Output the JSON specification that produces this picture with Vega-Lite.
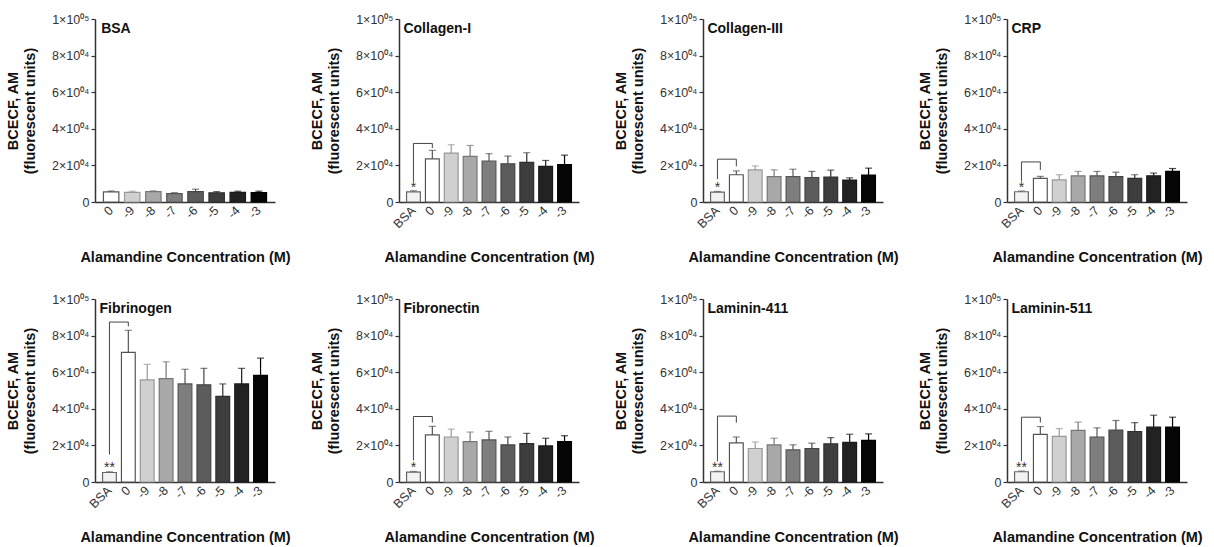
{
  "$schema": "https://vega.github.io/schema/vega-lite/v6.json",
  "background": "white",
  "padding": {"left": 5, "top": 12, "right": 2, "bottom": 2},
  "datasets": {
    "rows": [
      {"panel":"BSA","kind":"bar","cat":"0","mean":5500,"upper":6000},
      {"panel":"BSA","kind":"bar","cat":"-9","mean":5300,"upper":5900},
      {"panel":"BSA","kind":"bar","cat":"-8","mean":5700,"upper":6100},
      {"panel":"BSA","kind":"bar","cat":"-7","mean":4600,"upper":5100},
      {"panel":"BSA","kind":"bar","cat":"-6","mean":5700,"upper":7000},
      {"panel":"BSA","kind":"bar","cat":"-5","mean":5000,"upper":5700},
      {"panel":"BSA","kind":"bar","cat":"-4","mean":5300,"upper":5900},
      {"panel":"BSA","kind":"bar","cat":"-3","mean":5200,"upper":5900},
      {"panel":"BSA","kind":"title","cat":"0","yv":100000,"label":"BSA"},

      {"panel":"Collagen-I","kind":"bar","cat":"BSA","mean":5500,"upper":6200},
      {"panel":"Collagen-I","kind":"bar","cat":"0","mean":23600,"upper":28200},
      {"panel":"Collagen-I","kind":"bar","cat":"-9","mean":26700,"upper":31300},
      {"panel":"Collagen-I","kind":"bar","cat":"-8","mean":24900,"upper":30900},
      {"panel":"Collagen-I","kind":"bar","cat":"-7","mean":22400,"upper":26400},
      {"panel":"Collagen-I","kind":"bar","cat":"-6","mean":20900,"upper":25100},
      {"panel":"Collagen-I","kind":"bar","cat":"-5","mean":21600,"upper":26900},
      {"panel":"Collagen-I","kind":"bar","cat":"-4","mean":19500,"upper":22700},
      {"panel":"Collagen-I","kind":"bar","cat":"-3","mean":20500,"upper":25600},
      {"panel":"Collagen-I","kind":"star","cat":"BSA","yv":6400,"label":"*"},
      {"panel":"Collagen-I","kind":"bracket","cat":"BSA","yv":11000,"ord":1},
      {"panel":"Collagen-I","kind":"bracket","cat":"BSA","yv":32000,"ord":2},
      {"panel":"Collagen-I","kind":"bracket","cat":"0","yv":32000,"ord":3},
      {"panel":"Collagen-I","kind":"bracket","cat":"0","yv":29500,"ord":4},
      {"panel":"Collagen-I","kind":"title","cat":"BSA","yv":100000,"label":"Collagen-I"},

      {"panel":"Collagen-III","kind":"bar","cat":"BSA","mean":5400,"upper":5800},
      {"panel":"Collagen-III","kind":"bar","cat":"0","mean":14900,"upper":17000},
      {"panel":"Collagen-III","kind":"bar","cat":"-9","mean":17600,"upper":19700},
      {"panel":"Collagen-III","kind":"bar","cat":"-8","mean":13900,"upper":17600},
      {"panel":"Collagen-III","kind":"bar","cat":"-7","mean":13900,"upper":17900},
      {"panel":"Collagen-III","kind":"bar","cat":"-6","mean":13400,"upper":16700},
      {"panel":"Collagen-III","kind":"bar","cat":"-5","mean":13600,"upper":17400},
      {"panel":"Collagen-III","kind":"bar","cat":"-4","mean":12000,"upper":13200},
      {"panel":"Collagen-III","kind":"bar","cat":"-3","mean":14700,"upper":18500},
      {"panel":"Collagen-III","kind":"star","cat":"BSA","yv":6400,"label":"*"},
      {"panel":"Collagen-III","kind":"bracket","cat":"BSA","yv":12500,"ord":1},
      {"panel":"Collagen-III","kind":"bracket","cat":"BSA","yv":23400,"ord":2},
      {"panel":"Collagen-III","kind":"bracket","cat":"0","yv":23400,"ord":3},
      {"panel":"Collagen-III","kind":"bracket","cat":"0","yv":19500,"ord":4},
      {"panel":"Collagen-III","kind":"title","cat":"BSA","yv":100000,"label":"Collagen-III"},

      {"panel":"CRP","kind":"bar","cat":"BSA","mean":5600,"upper":6000},
      {"panel":"CRP","kind":"bar","cat":"0","mean":12900,"upper":14000},
      {"panel":"CRP","kind":"bar","cat":"-9","mean":12100,"upper":14900},
      {"panel":"CRP","kind":"bar","cat":"-8","mean":14300,"upper":16700},
      {"panel":"CRP","kind":"bar","cat":"-7","mean":14300,"upper":16700},
      {"panel":"CRP","kind":"bar","cat":"-6","mean":13900,"upper":16300},
      {"panel":"CRP","kind":"bar","cat":"-5","mean":12900,"upper":14900},
      {"panel":"CRP","kind":"bar","cat":"-4","mean":14300,"upper":15800},
      {"panel":"CRP","kind":"bar","cat":"-3","mean":16700,"upper":18300},
      {"panel":"CRP","kind":"star","cat":"BSA","yv":6400,"label":"*"},
      {"panel":"CRP","kind":"bracket","cat":"BSA","yv":11200,"ord":1},
      {"panel":"CRP","kind":"bracket","cat":"BSA","yv":21900,"ord":2},
      {"panel":"CRP","kind":"bracket","cat":"0","yv":21900,"ord":3},
      {"panel":"CRP","kind":"bracket","cat":"0","yv":17500,"ord":4},
      {"panel":"CRP","kind":"title","cat":"BSA","yv":100000,"label":"CRP"},

      {"panel":"Fibrinogen","kind":"bar","cat":"BSA","mean":5200,"upper":5600},
      {"panel":"Fibrinogen","kind":"bar","cat":"0","mean":70800,"upper":82900},
      {"panel":"Fibrinogen","kind":"bar","cat":"-9","mean":55800,"upper":64300},
      {"panel":"Fibrinogen","kind":"bar","cat":"-8","mean":56500,"upper":65700},
      {"panel":"Fibrinogen","kind":"bar","cat":"-7","mean":53600,"upper":61600},
      {"panel":"Fibrinogen","kind":"bar","cat":"-6","mean":53100,"upper":62100},
      {"panel":"Fibrinogen","kind":"bar","cat":"-5","mean":46800,"upper":53600},
      {"panel":"Fibrinogen","kind":"bar","cat":"-4","mean":53600,"upper":62100},
      {"panel":"Fibrinogen","kind":"bar","cat":"-3","mean":58300,"upper":67700},
      {"panel":"Fibrinogen","kind":"star","cat":"BSA","yv":6400,"label":"**"},
      {"panel":"Fibrinogen","kind":"bracket","cat":"BSA","yv":15000,"ord":1},
      {"panel":"Fibrinogen","kind":"bracket","cat":"BSA","yv":87400,"ord":2},
      {"panel":"Fibrinogen","kind":"bracket","cat":"0","yv":87400,"ord":3},
      {"panel":"Fibrinogen","kind":"bracket","cat":"0","yv":85000,"ord":4},
      {"panel":"Fibrinogen","kind":"title","cat":"BSA","yv":100000,"label":"Fibrinogen"},

      {"panel":"Fibronectin","kind":"bar","cat":"BSA","mean":5400,"upper":5800},
      {"panel":"Fibronectin","kind":"bar","cat":"0","mean":25700,"upper":30400},
      {"panel":"Fibronectin","kind":"bar","cat":"-9","mean":24600,"upper":28900},
      {"panel":"Fibronectin","kind":"bar","cat":"-8","mean":22100,"upper":27300},
      {"panel":"Fibronectin","kind":"bar","cat":"-7","mean":23000,"upper":27700},
      {"panel":"Fibronectin","kind":"bar","cat":"-6","mean":20300,"upper":24600},
      {"panel":"Fibronectin","kind":"bar","cat":"-5","mean":21000,"upper":26600},
      {"panel":"Fibronectin","kind":"bar","cat":"-4","mean":19700,"upper":23900},
      {"panel":"Fibronectin","kind":"bar","cat":"-3","mean":22100,"upper":25300},
      {"panel":"Fibronectin","kind":"star","cat":"BSA","yv":6400,"label":"*"},
      {"panel":"Fibronectin","kind":"bracket","cat":"BSA","yv":11800,"ord":1},
      {"panel":"Fibronectin","kind":"bracket","cat":"BSA","yv":35800,"ord":2},
      {"panel":"Fibronectin","kind":"bracket","cat":"0","yv":35800,"ord":3},
      {"panel":"Fibronectin","kind":"bracket","cat":"0","yv":32500,"ord":4},
      {"panel":"Fibronectin","kind":"title","cat":"BSA","yv":100000,"label":"Fibronectin"},

      {"panel":"Laminin-411","kind":"bar","cat":"BSA","mean":5600,"upper":5900},
      {"panel":"Laminin-411","kind":"bar","cat":"0","mean":21400,"upper":24600},
      {"panel":"Laminin-411","kind":"bar","cat":"-9","mean":18300,"upper":21900},
      {"panel":"Laminin-411","kind":"bar","cat":"-8","mean":20300,"upper":23900},
      {"panel":"Laminin-411","kind":"bar","cat":"-7","mean":17600,"upper":20300},
      {"panel":"Laminin-411","kind":"bar","cat":"-6","mean":18300,"upper":21200},
      {"panel":"Laminin-411","kind":"bar","cat":"-5","mean":20900,"upper":24300},
      {"panel":"Laminin-411","kind":"bar","cat":"-4","mean":21600,"upper":26100},
      {"panel":"Laminin-411","kind":"bar","cat":"-3","mean":22700,"upper":26300},
      {"panel":"Laminin-411","kind":"star","cat":"BSA","yv":6400,"label":"**"},
      {"panel":"Laminin-411","kind":"bracket","cat":"BSA","yv":11300,"ord":1},
      {"panel":"Laminin-411","kind":"bracket","cat":"BSA","yv":36000,"ord":2},
      {"panel":"Laminin-411","kind":"bracket","cat":"0","yv":36000,"ord":3},
      {"panel":"Laminin-411","kind":"bracket","cat":"0","yv":32400,"ord":4},
      {"panel":"Laminin-411","kind":"title","cat":"BSA","yv":100000,"label":"Laminin-411"},

      {"panel":"Laminin-511","kind":"bar","cat":"BSA","mean":5600,"upper":6000},
      {"panel":"Laminin-511","kind":"bar","cat":"0","mean":26000,"upper":30300},
      {"panel":"Laminin-511","kind":"bar","cat":"-9","mean":24900,"upper":29200},
      {"panel":"Laminin-511","kind":"bar","cat":"-8","mean":28200,"upper":32700},
      {"panel":"Laminin-511","kind":"bar","cat":"-7","mean":24500,"upper":29600},
      {"panel":"Laminin-511","kind":"bar","cat":"-6","mean":28300,"upper":33600},
      {"panel":"Laminin-511","kind":"bar","cat":"-5","mean":27600,"upper":32500},
      {"panel":"Laminin-511","kind":"bar","cat":"-4","mean":30000,"upper":36500},
      {"panel":"Laminin-511","kind":"bar","cat":"-3","mean":30000,"upper":35400},
      {"panel":"Laminin-511","kind":"star","cat":"BSA","yv":6400,"label":"**"},
      {"panel":"Laminin-511","kind":"bracket","cat":"BSA","yv":11400,"ord":1},
      {"panel":"Laminin-511","kind":"bracket","cat":"BSA","yv":35400,"ord":2},
      {"panel":"Laminin-511","kind":"bracket","cat":"0","yv":35400,"ord":3},
      {"panel":"Laminin-511","kind":"bracket","cat":"0","yv":32500,"ord":4},
      {"panel":"Laminin-511","kind":"title","cat":"BSA","yv":100000,"label":"Laminin-511"}
    ]
  },
  "data": {"name": "rows"},
  "facet": {
    "field": "panel",
    "type": "nominal",
    "sort": ["BSA","Collagen-I","Collagen-III","CRP","Fibrinogen","Fibronectin","Laminin-411","Laminin-511"],
    "header": {"title": null, "labelExpr": "''", "labelFontSize": 1, "labelPadding": 0}
  },
  "columns": 4,
  "spacing": {"row": 28, "column": 18},
  "resolve": {
    "scale": {"x": "independent"},
    "axis": {"x": "independent", "y": "independent"}
  },
  "spec": {
    "width": 180,
    "height": 183,
    "resolve": {"axis": {"x": "shared", "y": "shared"}},
    "layer": [
      {
        "transform": [{"filter": "datum.kind == 'bar'"}],
        "mark": {"type": "bar", "strokeWidth": 1.2},
        "encoding": {
          "x": {
            "field": "cat", "type": "nominal",
            "sort": ["BSA","0","-9","-8","-7","-6","-5","-4","-3"],
            "scale": {"paddingInner": 0.27, "paddingOuter": 0.4},
            "axis": {"title": "Alamandine Concentration (M)", "labelAngle": -45, "labelAlign": "right", "labelBaseline": "middle", "ticks": false, "labelPadding": 6, "titleY": 55, "titleBaseline": "middle"}
          },
          "y": {
            "field": "mean", "type": "quantitative",
            "scale": {"domain": [0, 100000], "nice": false},
            "axis": {
              "title": ["BCECF, AM", "(fluorescent units)"],
              "values": [0, 20000, 40000, 60000, 80000, 100000],
              "labelOverlap": false,
              "labelExpr": "datum.value < 1 ? '0' : datum.value < 30000 ? '2×10⁰⁴' : datum.value < 50000 ? '4×10⁰⁴' : datum.value < 70000 ? '6×10⁰⁴' : datum.value < 90000 ? '8×10⁰⁴' : '1×10⁰⁵'",
              "titlePadding": 14
            }
          },
          "fill": {
            "field": "cat", "type": "nominal", "legend": null,
            "scale": {"domain": ["BSA","0","-9","-8","-7","-6","-5","-4","-3"],
                      "range": ["#f2f2f2","#ffffff","#d0d0d0","#a8a8a8","#7e7e7e","#5c5c5c","#3e3e3e","#222222","#050505"]}
          },
          "stroke": {
            "field": "cat", "type": "nominal", "legend": null,
            "scale": {"domain": ["BSA","0","-9","-8","-7","-6","-5","-4","-3"],
                      "range": ["#666666","#555555","#999999","#777777","#555555","#444444","#2e2e2e","#1a1a1a","#000000"]}
          }
        }
      },
      {
        "transform": [{"filter": "datum.kind == 'bar'"}],
        "mark": {"type": "rule", "strokeWidth": 1.2},
        "encoding": {
          "x": {"field": "cat", "type": "nominal", "sort": ["BSA","0","-9","-8","-7","-6","-5","-4","-3"],
            "axis": {"title": "Alamandine Concentration (M)", "labelAngle": -45, "labelAlign": "right", "labelBaseline": "middle", "ticks": false, "labelPadding": 6, "titleY": 55, "titleBaseline": "middle"}},
          "y": {"field": "mean", "type": "quantitative",
            "axis": {
              "title": ["BCECF, AM", "(fluorescent units)"],
              "values": [0, 20000, 40000, 60000, 80000, 100000],
              "labelOverlap": false,
              "labelExpr": "datum.value < 1 ? '0' : datum.value < 30000 ? '2×10⁰⁴' : datum.value < 50000 ? '4×10⁰⁴' : datum.value < 70000 ? '6×10⁰⁴' : datum.value < 90000 ? '8×10⁰⁴' : '1×10⁰⁵'",
              "titlePadding": 14
            }},
          "y2": {"field": "upper"},
          "stroke": {"field": "cat", "type": "nominal", "legend": null}
        }
      },
      {
        "transform": [{"filter": "datum.kind == 'bar'"}],
        "mark": {"type": "tick", "thickness": 1.2, "size": 7},
        "encoding": {
          "x": {"field": "cat", "type": "nominal", "sort": ["BSA","0","-9","-8","-7","-6","-5","-4","-3"],
            "axis": {"title": "Alamandine Concentration (M)", "labelAngle": -45, "labelAlign": "right", "labelBaseline": "middle", "ticks": false, "labelPadding": 6, "titleY": 55, "titleBaseline": "middle"}},
          "y": {"field": "upper", "type": "quantitative",
            "axis": {
              "title": ["BCECF, AM", "(fluorescent units)"],
              "values": [0, 20000, 40000, 60000, 80000, 100000],
              "labelOverlap": false,
              "labelExpr": "datum.value < 1 ? '0' : datum.value < 30000 ? '2×10⁰⁴' : datum.value < 50000 ? '4×10⁰⁴' : datum.value < 70000 ? '6×10⁰⁴' : datum.value < 90000 ? '8×10⁰⁴' : '1×10⁰⁵'",
              "titlePadding": 14
            }},
          "color": {"field": "cat", "type": "nominal", "legend": null,
            "scale": {"domain": ["BSA","0","-9","-8","-7","-6","-5","-4","-3"],
                      "range": ["#666666","#555555","#999999","#777777","#555555","#444444","#2e2e2e","#1a1a1a","#000000"]}}
        }
      },
      {
        "transform": [{"filter": "datum.kind == 'bracket'"}],
        "mark": {"type": "line", "color": "#444444", "strokeWidth": 1},
        "encoding": {
          "x": {"field": "cat", "type": "nominal", "sort": ["BSA","0","-9","-8","-7","-6","-5","-4","-3"],
            "axis": {"title": "Alamandine Concentration (M)", "labelAngle": -45, "labelAlign": "right", "labelBaseline": "middle", "ticks": false, "labelPadding": 6, "titleY": 55, "titleBaseline": "middle"}},
          "y": {"field": "yv", "type": "quantitative",
            "axis": {
              "title": ["BCECF, AM", "(fluorescent units)"],
              "values": [0, 20000, 40000, 60000, 80000, 100000],
              "labelOverlap": false,
              "labelExpr": "datum.value < 1 ? '0' : datum.value < 30000 ? '2×10⁰⁴' : datum.value < 50000 ? '4×10⁰⁴' : datum.value < 70000 ? '6×10⁰⁴' : datum.value < 90000 ? '8×10⁰⁴' : '1×10⁰⁵'",
              "titlePadding": 14
            }},
          "order": {"field": "ord", "type": "quantitative"}
        }
      },
      {
        "transform": [{"filter": "datum.kind == 'star'"}],
        "mark": {"type": "text", "baseline": "bottom", "fontSize": 14, "color": "#333333", "dy": 5},
        "encoding": {
          "x": {"field": "cat", "type": "nominal", "sort": ["BSA","0","-9","-8","-7","-6","-5","-4","-3"],
            "axis": {"title": "Alamandine Concentration (M)", "labelAngle": -45, "labelAlign": "right", "labelBaseline": "middle", "ticks": false, "labelPadding": 6, "titleY": 55, "titleBaseline": "middle"}},
          "y": {"field": "yv", "type": "quantitative",
            "axis": {
              "title": ["BCECF, AM", "(fluorescent units)"],
              "values": [0, 20000, 40000, 60000, 80000, 100000],
              "labelOverlap": false,
              "labelExpr": "datum.value < 1 ? '0' : datum.value < 30000 ? '2×10⁰⁴' : datum.value < 50000 ? '4×10⁰⁴' : datum.value < 70000 ? '6×10⁰⁴' : datum.value < 90000 ? '8×10⁰⁴' : '1×10⁰⁵'",
              "titlePadding": 14
            }},
          "text": {"field": "label"}
        }
      },
      {
        "transform": [{"filter": "datum.kind == 'title'"}],
        "mark": {"type": "text", "align": "left", "baseline": "top", "fontSize": 14, "fontWeight": "bold", "color": "#111111", "dx": -10, "dy": 3},
        "encoding": {
          "x": {"field": "cat", "type": "nominal", "sort": ["BSA","0","-9","-8","-7","-6","-5","-4","-3"],
            "axis": {"title": "Alamandine Concentration (M)", "labelAngle": -45, "labelAlign": "right", "labelBaseline": "middle", "ticks": false, "labelPadding": 6, "titleY": 55, "titleBaseline": "middle"}},
          "y": {"field": "yv", "type": "quantitative",
            "axis": {
              "title": ["BCECF, AM", "(fluorescent units)"],
              "values": [0, 20000, 40000, 60000, 80000, 100000],
              "labelOverlap": false,
              "labelExpr": "datum.value < 1 ? '0' : datum.value < 30000 ? '2×10⁰⁴' : datum.value < 50000 ? '4×10⁰⁴' : datum.value < 70000 ? '6×10⁰⁴' : datum.value < 90000 ? '8×10⁰⁴' : '1×10⁰⁵'",
              "titlePadding": 14
            }},
          "text": {"field": "label"}
        }
      }
    ]
  },
  "config": {
    "font": "Liberation Sans",
    "view": {"stroke": null},
    "axis": {
      "grid": false,
      "labelOverlap": false,
      "domainColor": "#333333",
      "domainWidth": 1.5,
      "tickColor": "#333333",
      "tickWidth": 1.2,
      "tickSize": 4,
      "labelFontSize": 12.5,
      "labelColor": "#333333",
      "titleFontSize": 14.5,
      "titleFontWeight": "bold",
      "titleColor": "#111111"
    },
    "axisY": {"labelOverlap": false},
    "axisQuantitative": {"labelOverlap": false}
  }
}
